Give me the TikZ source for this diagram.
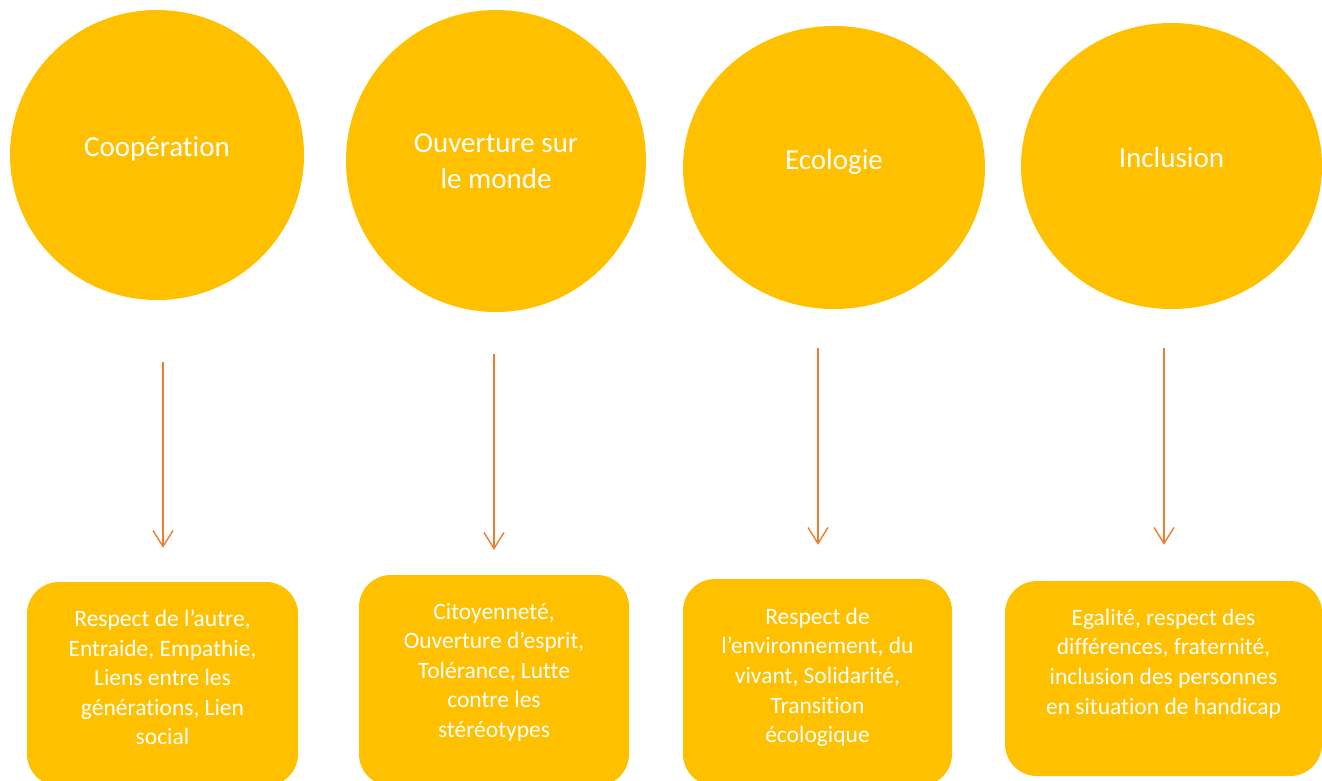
\documentclass[tikz,border=0pt]{standalone}
\usepackage{fontspec}
\setmainfont{Carlito}[Ligatures=NoCommon]
\usepackage{tikz}
\usetikzlibrary{positioning,shapes.geometric,arrows.meta}
\definecolor{gold}{HTML}{FFC000}
\definecolor{flowcol}{HTML}{ED7D31}

\begin{document}
\begin{tikzpicture}
  [x=1pt,y=-1pt,
   value/.style={ellipse,fill=gold,inner sep=0pt,text=white,align=center,
     font=\fontsize{29}{36}\selectfont},
   valueone/.style={value,text height=20pt,text depth=17pt},
   card/.style={rectangle,rounded corners=32pt,fill=gold,inner sep=0pt},
   cardtext/.style={inner sep=0pt,text=white,align=center,
     font=\fontsize{23.5}{29.6}\selectfont},
   flow/.style={draw=flowcol,line width=1.4pt,-{Straight Barb[length=16pt,width=20pt,line width=1.4pt]}}]
  \clip (0,0) rectangle (1322,780);

  % values
  \node[valueone,minimum width=294pt,minimum height=290pt] (c1) at (157,155) {Coopération};
  \node[value,minimum width=300pt,minimum height=302pt] (c2) at (496,161) {Ouverture sur\\le monde};
  \node[valueone,minimum width=302pt,minimum height=283pt] (c3) at (834,167.5) {Ecologie};
  \node[valueone,minimum width=301pt,minimum height=286pt] (c4) at (1171.5,166) {Inclusion};

  % cards
  \node[card,minimum width=271pt,minimum height=204pt] (b1) at (162.5,684) {};
  \node[card,minimum width=270pt,minimum height=211pt] (b2) at (494,680.5) {};
  \node[card,minimum width=269pt,minimum height=207pt] (b3) at (817.5,682.5) {};
  \node[card,minimum width=317pt,minimum height=195pt] (b4) at (1163.5,678.5) {};

  \node[cardtext,below=28pt of b1.north] (t1) {Respect de l’autre,\\Entraide, Empathie,\\Liens entre les\\générations, Lien\\social};
  \node[cardtext,below=28pt of b2.north] (t2) {Citoyenneté,\\Ouverture d’esprit,\\Tolérance, Lutte\\contre les\\stéréotypes};
  \node[cardtext,below=29pt of b3.north] (t3) {Respect de\\l’environnement, du\\vivant, Solidarité,\\Transition\\écologique};
  \node[cardtext,below=28pt of b4.north] (t4) {Egalité, respect des\\différences, fraternité,\\inclusion des personnes\\en situation de handicap};

  \draw[flow] ([xshift=6pt,yshift=-62pt]c1.south) -- ([xshift=0.5pt,yshift=34pt]b1.north);
  \draw[flow] ([xshift=-2pt,yshift=-42pt]c2.south) -- ([xshift=0pt,yshift=25pt]b2.north);
  \draw[flow] ([xshift=-16pt,yshift=-39pt]c3.south) -- ([xshift=0.5pt,yshift=34pt]b3.north);
  \draw[flow] ([xshift=-7.5pt,yshift=-39pt]c4.south) -- ([xshift=0.5pt,yshift=36pt]b4.north);
\end{tikzpicture}
\end{document}
